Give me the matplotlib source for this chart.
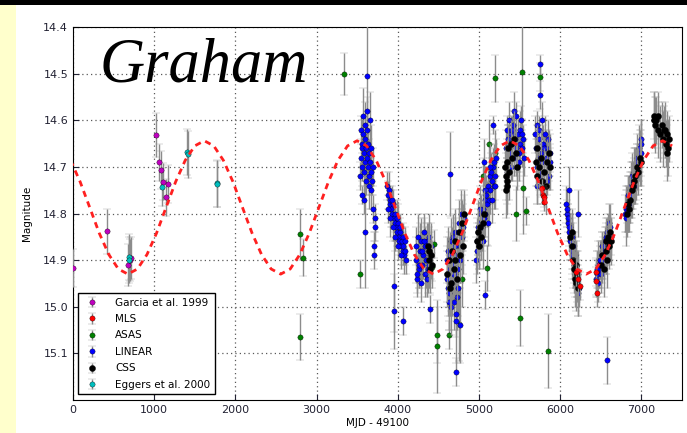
import matplotlib
matplotlib.use("Agg")
import matplotlib.pyplot as plt
from matplotlib.patches import Rectangle

# === data (day = MJD - 49100, magnitude) ===

# Garcia et al. 1999
garcia_day = [0, 420, 680, 700, 720, 1020, 1060, 1080, 1105, 1140, 1175]
garcia_mag = [14.917, 14.838, 14.91, 14.90, 14.895, 14.632, 14.69, 14.707, 14.732, 14.765, 14.737]
garcia_err = [0.04, 0.048, 0.045, 0.045, 0.045, 0.047, 0.04, 0.04, 0.04, 0.04, 0.04]

# Eggers et al. 2000
eggers_day = [690, 695, 1095, 1410, 1412, 1770, 1772]
eggers_mag = [14.893, 14.90, 14.743, 14.668, 14.673, 14.735, 14.737]
eggers_err = [0.05, 0.05, 0.04, 0.05, 0.05, 0.05, 0.05]

# ASAS
asas_day = [2800, 2830, 2800, 3340, 3540, 4420, 4447, 4484, 4484, 4631, 4754, 4790,
            5049, 5098, 5123, 5197, 5200, 5455, 5504, 5530, 5541, 5577, 5749, 5848]
asas_mag = [14.845, 14.895, 15.065, 14.50, 14.93, 14.915, 14.865, 15.06, 15.085, 15.06, 15.037, 14.94,
            14.72, 14.917, 14.65, 14.67, 14.51, 14.80, 15.025, 14.497, 14.745, 14.795, 14.507, 15.095]
asas_err = [0.055, 0.04, 0.05, 0.045, 0.03, 0.03, 0.03, 0.06, 0.10, 0.03, 0.08, 0.06,
            0.04, 0.05, 0.05, 0.05, 0.05, 0.06, 0.06, 0.10, 0.10, 0.03, 0.03, 0.08]

# MLS
mls_day = [5775, 5785, 5795, 5805, 6190, 6215, 6240, 6437, 6445, 6450]
mls_mag = [14.745, 14.76, 14.775, 14.765, 14.925, 14.94, 14.955, 14.926, 14.945, 14.971]
mls_err = [0.02, 0.02, 0.02, 0.02, 0.03, 0.03, 0.03, 0.03, 0.03, 0.03]

# LINEAR
linear_day = [
    # 1st season
    3540, 3545, 3550, 3555, 3560, 3565, 3570, 3575, 3580, 3585, 3590, 3595, 3600, 3605, 3610,
    3615, 3620, 3625, 3630, 3635, 3640, 3645, 3650, 3655, 3660, 3665, 3670, 3675, 3680, 3690,
    3624, 3580, 3600, 3700, 3715, 3720, 3705, 3712, 3560,
    # 2nd season
    3870, 3880, 3890, 3900, 3910, 3920, 3930, 3940, 3950, 3960, 3970, 3980, 3990, 4000, 4010,
    4020, 4030, 4040, 4050, 4060, 4070, 4080, 4090, 4100, 3885, 3905, 3925, 3945, 3965, 3985,
    4005, 4025, 4045, 4065, 4085, 3955, 3950, 4066,
    # 3rd season
    4220, 4230, 4240, 4250, 4260, 4270, 4280, 4290, 4300, 4310, 4320, 4330, 4340, 4350, 4360,
    4370, 4380, 4390, 4400, 4410, 4235, 4265, 4295, 4325, 4355, 4385, 4400,
    # 4th season
    4600, 4610, 4620, 4630, 4640, 4650, 4660, 4670, 4680, 4690, 4700, 4710, 4720, 4730, 4740,
    4750, 4760, 4770, 4780, 4790, 4800, 4810, 4615, 4645, 4675, 4705, 4735, 4765, 4795, 4625,
    4685, 4745, 4640, 4720, 4720,
    # 5th season
    4960, 4970, 4980, 4990, 5000, 5010, 5020, 5030, 5040, 5050, 5060, 5070, 5080, 5090, 5100,
    5110, 5120, 5130, 5140, 5150, 5160, 5170, 5180, 5190, 5200, 5210, 4985, 5015, 5045, 5075,
    5105, 5135, 5165, 5195, 5075, 5170, 5060,
    # 6th season
    5330, 5340, 5350, 5360, 5370, 5380, 5390, 5400, 5410, 5420, 5430, 5440, 5450, 5460, 5470,
    5480, 5490, 5500, 5510, 5520, 5530, 5540, 5550, 5345, 5375, 5405, 5435, 5465, 5495, 5525,
    # 7th season
    5690, 5700, 5710, 5720, 5730, 5740, 5750, 5760, 5770, 5780, 5790, 5800, 5810, 5820, 5830,
    5840, 5850, 5860, 5870, 5880, 5715, 5745, 5775, 5805, 5835, 5865, 5749, 5749,
    # 8th season
    6070, 6080, 6090, 6100, 6110, 6120, 6130, 6140, 6150, 6160, 6170, 6180, 6190, 6200, 6210,
    6220, 6230, 6085, 6105, 6125, 6145, 6165, 6185, 6205, 6225, 6105, 6215,
    # 9th season
    6440, 6450, 6460, 6470, 6480, 6490, 6500, 6510, 6520, 6530, 6540, 6550, 6560, 6570, 6580,
    6590, 6600, 6610, 6620, 6455, 6485, 6515, 6545, 6575, 6605, 6580,
    # 10th season
    6800, 6810, 6820, 6830, 6840, 6850, 6860, 6870, 6880, 6890, 6900, 6910, 6920, 6930, 6940,
    6950, 6960, 6970, 6980, 6990, 7000, 6815, 6845, 6875, 6905, 6935, 6965, 6995,
]
linear_mag = [
    14.72, 14.68, 14.62, 14.65, 14.70, 14.66, 14.59, 14.63, 14.67, 14.71, 14.61, 14.64, 14.69, 14.73, 14.66,
    14.62, 14.68, 14.58, 14.70, 14.65, 14.74, 14.67, 14.72, 14.60, 14.69, 14.75, 14.71, 14.66, 14.73, 14.70,
    14.505, 14.77, 14.84, 14.79, 14.81, 14.83, 14.87, 14.89, 14.76,
    14.74, 14.76, 14.75, 14.78, 14.77, 14.79, 14.80, 14.78, 14.81, 14.82, 14.80, 14.83, 14.84, 14.82, 14.85,
    14.86, 14.84, 14.87, 14.86, 14.88, 14.87, 14.89, 14.88, 14.90, 14.79, 14.81, 14.77, 14.83, 14.85, 14.81,
    14.87, 14.83, 14.89, 14.85, 14.86, 14.955, 15.01, 15.03,
    14.87, 14.90, 14.94, 14.85, 14.92, 14.88, 14.95, 14.86, 14.91, 14.89, 14.84, 14.93, 14.87, 14.90, 14.86,
    14.92, 14.88, 14.85, 14.89, 14.87, 14.93, 14.91, 14.88, 14.86, 14.94, 14.91, 15.005,
    14.90, 14.94, 14.88, 14.97, 14.92, 15.00, 14.86, 14.95, 14.91, 14.99, 14.84, 14.93, 15.03, 14.89, 14.96,
    14.82, 14.87, 15.04, 14.80, 14.85, 14.83, 14.81, 14.96, 14.89, 14.93, 14.87, 14.98, 14.90, 14.84, 14.99,
    14.85, 14.92, 14.715, 15.14, 15.015,
    14.90, 14.86, 14.88, 14.84, 14.87, 14.82, 14.85, 14.80, 14.83, 14.79, 14.81, 14.77, 14.80, 14.76, 14.78,
    14.74, 14.77, 14.72, 14.75, 14.71, 14.73, 14.70, 14.74, 14.69, 14.72, 14.68, 14.83, 14.79, 14.86, 14.75,
    14.82, 14.70, 14.77, 14.74, 14.975, 14.61, 14.69,
    14.66, 14.62, 14.69, 14.64, 14.60, 14.67, 14.63, 14.70, 14.65, 14.61, 14.68, 14.64, 14.66, 14.59, 14.67,
    14.63, 14.69, 14.65, 14.62, 14.60, 14.66, 14.64, 14.68, 14.71, 14.65, 14.62, 14.58, 14.70, 14.67, 14.63,
    14.63, 14.66, 14.70, 14.61, 14.68, 14.64, 14.72, 14.67, 14.60, 14.69, 14.65, 14.71, 14.63, 14.68, 14.66,
    14.73, 14.64, 14.70, 14.67, 14.69, 14.74, 14.62, 14.71, 14.66, 14.69, 14.72, 14.48, 14.545,
    14.78, 14.80, 14.82, 14.81, 14.84, 14.83, 14.86, 14.85, 14.88, 14.87, 14.90, 14.89, 14.92, 14.91, 14.94,
    14.93, 14.96, 14.79, 14.83, 14.86, 14.89, 14.91, 14.93, 14.95, 14.97, 14.75, 14.80,
    14.94, 14.93, 14.95, 14.91, 14.92, 14.90, 14.93, 14.89, 14.91, 14.88, 14.90, 14.86, 14.89, 14.85, 14.87,
    14.84, 14.86, 14.83, 14.85, 14.92, 14.90, 14.87, 14.88, 14.84, 14.82, 15.115,
    14.80, 14.79, 14.78, 14.79, 14.76, 14.77, 14.75, 14.74, 14.75, 14.72, 14.73, 14.71, 14.70, 14.71, 14.69,
    14.68, 14.70, 14.66, 14.67, 14.65, 14.64, 14.81, 14.78, 14.76, 14.74, 14.72, 14.69, 14.67,
]
linear_err = [
    0.03, 0.04, 0.03, 0.05, 0.03, 0.04, 0.06, 0.03, 0.04, 0.03, 0.05, 0.03, 0.04, 0.03, 0.03,
    0.04, 0.05, 0.03, 0.04, 0.03, 0.05, 0.03, 0.04, 0.06, 0.03, 0.04, 0.03, 0.05, 0.03, 0.04,
    0.11, 0.03, 0.12, 0.03, 0.03, 0.03, 0.03, 0.03, 0.02,
    0.03, 0.03, 0.04, 0.03, 0.03, 0.04, 0.03, 0.03, 0.03, 0.04, 0.03, 0.03, 0.03, 0.04, 0.03,
    0.03, 0.03, 0.04, 0.03, 0.03, 0.03, 0.04, 0.03, 0.03, 0.03, 0.04, 0.03, 0.03, 0.03, 0.04,
    0.03, 0.03, 0.03, 0.03, 0.03, 0.10, 0.08, 0.03,
    0.04, 0.05, 0.04, 0.05, 0.04, 0.06, 0.04, 0.05, 0.04, 0.05, 0.04, 0.05, 0.04, 0.06, 0.04,
    0.05, 0.04, 0.05, 0.04, 0.05, 0.04, 0.05, 0.04, 0.05, 0.04, 0.05, 0.03,
    0.05, 0.06, 0.05, 0.08, 0.05, 0.06, 0.05, 0.07, 0.05, 0.06, 0.05, 0.06, 0.09, 0.05, 0.06,
    0.05, 0.05, 0.08, 0.05, 0.06, 0.05, 0.05, 0.06, 0.05, 0.06, 0.05, 0.07, 0.05, 0.05, 0.06,
    0.05, 0.05, 0.09, 0.03, 0.05,
    0.05, 0.04, 0.05, 0.04, 0.05, 0.04, 0.05, 0.04, 0.05, 0.04, 0.05, 0.04, 0.05, 0.04, 0.05,
    0.04, 0.05, 0.04, 0.05, 0.04, 0.05, 0.04, 0.05, 0.04, 0.05, 0.04, 0.06, 0.05, 0.06, 0.05,
    0.05, 0.05, 0.05, 0.05, 0.03, 0.02, 0.05,
    0.04, 0.03, 0.04, 0.03, 0.04, 0.03, 0.04, 0.03, 0.04, 0.03, 0.04, 0.03, 0.04, 0.03, 0.04,
    0.03, 0.04, 0.05, 0.04, 0.03, 0.04, 0.03, 0.04, 0.03, 0.04, 0.03, 0.04, 0.03, 0.04, 0.03,
    0.04, 0.03, 0.04, 0.03, 0.04, 0.03, 0.04, 0.03, 0.04, 0.03, 0.04, 0.03, 0.04, 0.03, 0.04,
    0.03, 0.04, 0.03, 0.04, 0.03, 0.04, 0.03, 0.04, 0.03, 0.04, 0.03, 0.02, 0.03,
    0.04, 0.03, 0.04, 0.03, 0.04, 0.03, 0.04, 0.05, 0.04, 0.05, 0.04, 0.05, 0.04, 0.05, 0.04,
    0.05, 0.04, 0.04, 0.04, 0.04, 0.05, 0.04, 0.05, 0.04, 0.05, 0.05, 0.05,
    0.04, 0.05, 0.04, 0.05, 0.04, 0.03, 0.04, 0.03, 0.04, 0.03, 0.04, 0.03, 0.04, 0.03, 0.04,
    0.03, 0.04, 0.03, 0.04, 0.04, 0.04, 0.03, 0.04, 0.03, 0.04, 0.05,
    0.04, 0.05, 0.04, 0.05, 0.04, 0.05, 0.04, 0.05, 0.04, 0.05, 0.04, 0.05, 0.04, 0.05, 0.04,
    0.05, 0.04, 0.05, 0.04, 0.05, 0.04, 0.06, 0.04, 0.05, 0.04, 0.05, 0.04, 0.05,
]

# CSS
css_day = [
    4370, 4380, 4390, 4400, 4410, 4420,
    4610, 4630, 4650, 4670, 4690, 4710, 4730, 4750, 4770, 4790, 4800, 4810, 4640, 4700,
    4970, 4985, 5000, 5015, 5030, 5045, 5060,
    5320, 5330, 5340, 5350, 5360, 5370, 5390, 5410, 5430, 5450, 5470, 5335, 5345,
    5700, 5710, 5720, 5740, 5760, 5780, 5800, 5820, 5840, 5860, 5880,
    6120, 6140, 6150, 6160, 6170, 6180, 6190, 6200, 6210, 6220,
    6500, 6520, 6540, 6560, 6570, 6580, 6590, 6600, 6610, 6620,
    6820, 6840, 6850, 6860, 6880, 6900, 6910, 6920, 6940, 6960, 6980, 7000,
    7150, 7160, 7170, 7180, 7200, 7210, 7230, 7250, 7270, 7280, 7290, 7300, 7310, 7320, 7330, 7340,
]
css_mag = [
    14.87, 14.90, 14.88, 14.92, 14.89, 14.91,
    14.93, 14.90, 14.95, 14.88, 14.92, 14.86, 14.94, 14.84, 14.89, 14.82, 14.87, 14.80, 14.96, 14.90,
    14.86, 14.84, 14.87, 14.83, 14.85, 14.82, 14.80,
    14.70, 14.72, 14.74, 14.69, 14.66, 14.71, 14.65, 14.68, 14.64, 14.67, 14.70, 14.75, 14.73,
    14.69, 14.72, 14.66, 14.70, 14.68, 14.73, 14.71, 14.74, 14.69, 14.67, 14.70,
    14.85, 14.87, 14.84, 14.90, 14.92, 14.94, 14.91, 14.95, 14.93, 14.96,
    14.91, 14.89, 14.92, 14.88, 14.86, 14.90, 14.85, 14.87, 14.84, 14.86,
    14.80, 14.78, 14.79, 14.77, 14.75, 14.74, 14.73, 14.72, 14.70, 14.71, 14.68, 14.69,
    14.60, 14.59, 14.61, 14.60, 14.62, 14.59, 14.63, 14.61, 14.64, 14.62, 14.62, 14.65, 14.67, 14.63, 14.66, 14.64,
]
css_err = [
    0.05, 0.05, 0.05, 0.05, 0.05, 0.05,
    0.06, 0.05, 0.06, 0.05, 0.06, 0.05, 0.06, 0.05, 0.06, 0.05, 0.06, 0.05, 0.06, 0.05,
    0.05, 0.05, 0.05, 0.05, 0.05, 0.05, 0.05,
    0.05, 0.05, 0.06, 0.05, 0.05, 0.06, 0.05, 0.05, 0.06, 0.05, 0.05, 0.06, 0.05,
    0.05, 0.06, 0.05, 0.05, 0.06, 0.05, 0.05, 0.06, 0.05, 0.05, 0.05,
    0.05, 0.06, 0.05, 0.06, 0.05, 0.06, 0.05, 0.06, 0.05, 0.06,
    0.05, 0.05, 0.06, 0.05, 0.05, 0.06, 0.05, 0.05, 0.06, 0.05,
    0.05, 0.06, 0.05, 0.05, 0.06, 0.05, 0.05, 0.06, 0.05, 0.05, 0.06, 0.05,
    0.06, 0.05, 0.06, 0.05, 0.06, 0.05, 0.06, 0.05, 0.06, 0.05, 0.06, 0.05, 0.06, 0.05, 0.06, 0.05,
]

# periodic model (red dashed curve), read every ~118 days
model_day = [-30, 88, 206, 323, 441, 558, 676, 794, 911, 1029, 1146, 1264, 1382, 1499, 1617, 1734,
             1852, 1970, 2087, 2205, 2322, 2440, 2558, 2675, 2793, 2910, 3028, 3146, 3263, 3381,
             3498, 3616, 3734, 3851, 3969, 4086, 4204, 4322, 4439, 4557, 4674, 4792, 4910, 5027,
             5145, 5262, 5380, 5498, 5615, 5733, 5850, 5968, 6086, 6203, 6321, 6438, 6556, 6674,
             6791, 6909, 7026, 7144, 7262, 7379]
model_mag = [14.686, 14.732, 14.787, 14.842, 14.888, 14.919,
             14.930, 14.919, 14.888, 14.842, 14.787, 14.732, 14.686, 14.655,
             14.644, 14.655, 14.686, 14.732, 14.787, 14.842, 14.888, 14.919,
             14.930, 14.919, 14.888, 14.842, 14.787, 14.732, 14.686, 14.655,
             14.644, 14.655, 14.686, 14.732, 14.787, 14.842, 14.888, 14.919,
             14.930, 14.919, 14.888, 14.842, 14.787, 14.732, 14.686, 14.655,
             14.644, 14.655, 14.686, 14.732, 14.787, 14.842, 14.888, 14.919,
             14.930, 14.919, 14.888, 14.842, 14.787, 14.732, 14.686, 14.655,
             14.644, 14.655]

x_ticks = [0, 1000, 2000, 3000, 4000, 5000, 6000, 7000]
y_ticks = [14.4, 14.5, 14.6, 14.7, 14.8, 14.9, 15.0, 15.1]

# === plot ===
fig = plt.figure(figsize=(6.87, 4.33), dpi=100)
fig.patches.append(Rectangle((0, 0), 16 / 687, 1, transform=fig.transFigure,
                             facecolor='#ffffcc', edgecolor='none', zorder=0))
fig.patches.append(Rectangle((0, 1 - 5 / 433), 1, 5 / 433, transform=fig.transFigure,
                             facecolor='black', edgecolor='none', zorder=0))

ax = fig.add_axes([73 / 687, 33 / 433, 609 / 687, 373 / 433])

eb = dict(fmt='o', ms=3.8, mec='k', mew=0.25, ecolor='0.55', elinewidth=1,
          capsize=3, capthick=1)
ax.errorbar(garcia_day, garcia_mag, yerr=garcia_err, color='m', label='Garcia et al. 1999', zorder=3, **eb)
ax.errorbar(mls_day, mls_mag, yerr=mls_err, color='r', label='MLS', zorder=6, **eb)
ax.errorbar(asas_day, asas_mag, yerr=asas_err, color='g', label='ASAS', zorder=3, **eb)
ax.errorbar(linear_day, linear_mag, yerr=linear_err, color='b', label='LINEAR', zorder=4, **eb)
ax.errorbar(css_day, css_mag, yerr=css_err, color='k', label='CSS', zorder=5,
            **{**eb, 'ms': 4.4})
ax.errorbar(eggers_day, eggers_mag, yerr=eggers_err, color='c', label='Eggers et al. 2000', zorder=3, **eb)

ax.plot(model_day, model_mag, color='#ff2020', lw=2, linestyle=(0, (2.2, 1.8)), zorder=7)

ax.text(0.044, 0.855, 'Graham', transform=ax.transAxes, family='Liberation Serif',
        style='italic', fontsize=45, va='baseline', ha='left', zorder=8)

ax.set_xlim(0, 7500)
ax.set_ylim(15.2, 14.4)
ax.set_xticks(x_ticks)
ax.set_yticks(y_ticks)
ax.set_yticklabels(['%.1f' % v for v in y_ticks])
ax.tick_params(direction='in', labelsize=8, colors='#222233', length=4)
ax.grid(True, color='0.35', linestyle=(0, (1, 2.5)), linewidth=0.9)
ax.set_axisbelow(True)
ax.set_xlabel('MJD - 49100', fontsize=7.5, labelpad=2)
ax.set_ylabel('Magnitude', fontsize=7.5, labelpad=8)

leg = ax.legend(loc='lower left', bbox_to_anchor=(0.008, 0.016), borderaxespad=0,
                fontsize=7.5, numpoints=1, fancybox=False, framealpha=1,
                edgecolor='black', labelspacing=0.62, handletextpad=1.2)
leg.get_frame().set_linewidth(1)

fig.savefig('out.png', dpi=100)
